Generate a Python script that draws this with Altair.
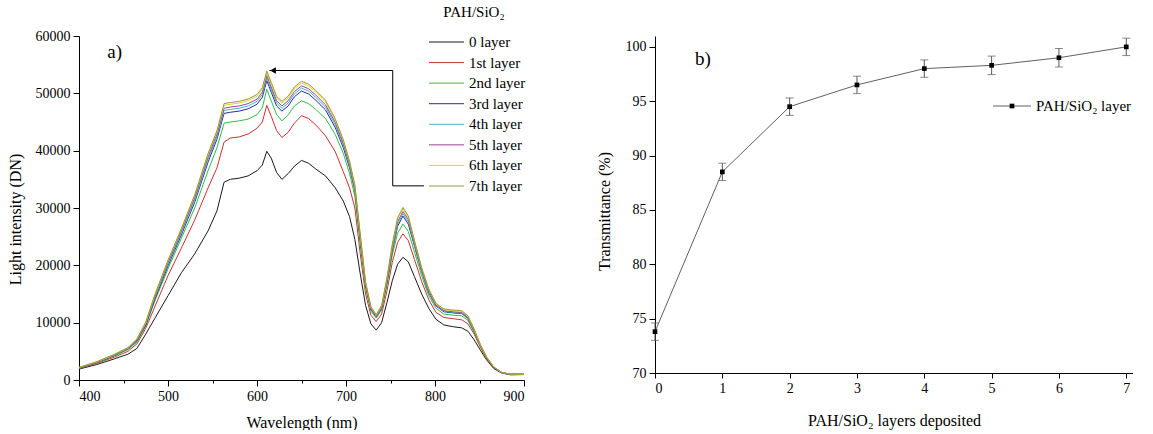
import altair as alt
import pandas as pd

FONT = "Liberation Serif"

# ---------------- Panel a) spectra ----------------
wavelength = [400, 420, 440, 455, 465, 475, 485, 500, 515, 530, 545, 555, 563, 570, 580, 590,
              600, 606, 611, 616, 622, 628, 635, 642, 650, 658, 666, 677, 688, 697, 704, 710,
              716, 722, 728, 734, 740, 746, 752, 758, 764, 770, 777, 785, 793, 801, 810, 820,
              830, 837, 844, 851, 858, 866, 875, 885, 900]

layer_0 = [1900, 2700, 3700, 4500, 5500, 8000, 10700, 14700, 18700, 22000, 26000, 29500, 34500, 35000, 35200, 35600,
           36500, 37500, 39900, 38700, 36200, 35000, 36000, 37300, 38300, 37800, 36800, 35600, 33500, 31200, 28500, 24500,
           18500, 13000, 9800, 8700, 10000, 13500, 17300, 20200, 21400, 20600, 18000, 15000, 12500, 10600, 9600, 9300,
           9100, 8500, 7000, 5200, 3500, 2000, 1200, 900, 950]
layer_1 = [2000, 2900, 4000, 5000, 6300, 9000, 12700, 18200, 23000, 27900, 33500, 37000, 41500, 42200, 42400, 42900,
           43900, 45000, 47900, 46000, 43500, 42300, 43200, 44800, 46100, 45600, 44500, 42600, 39800, 36300, 33500, 30000,
           22000, 15000, 11300, 10200, 11500, 15500, 20500, 24000, 25500, 24300, 21000, 17200, 14000, 11800, 10900, 10700,
           10500, 9800, 8000, 5700, 3700, 2100, 1300, 1000, 1000]
layer_2 = [2050, 3000, 4200, 5300, 6600, 9400, 13700, 19400, 24700, 30000, 36500, 40500, 44800, 45000, 45200, 45500,
           46300, 47500, 50700, 48700, 46300, 45200, 46200, 47800, 48700, 48200, 47200, 45600, 42800, 39500, 36000, 32000,
           23500, 16000, 12000, 10800, 12200, 16500, 21800, 25600, 27200, 25900, 22300, 18200, 14700, 12500, 11500, 11300,
           11200, 10400, 8300, 5900, 3800, 2200, 1300, 1000, 1000]
layer_3 = [2100, 3050, 4300, 5450, 6800, 9600, 14000, 19900, 25300, 31000, 38000, 42000, 46500, 46700, 46900, 47300,
           48100, 49300, 52200, 50200, 47800, 46900, 47800, 49400, 50400, 49900, 48800, 47100, 44000, 40500, 37000, 33000,
           24500, 16500, 12300, 11000, 12500, 17000, 22500, 26800, 28600, 27200, 23300, 18900, 15200, 12900, 11900, 11700,
           11600, 10700, 8500, 6000, 3900, 2200, 1300, 1000, 1000]
layer_4 = [2100, 3100, 4350, 5500, 6900, 9800, 14300, 20200, 25700, 31400, 38500, 42500, 47000, 47200, 47400, 47800,
           48600, 49800, 52700, 50700, 48300, 47400, 48300, 49900, 50900, 50400, 49300, 47600, 44500, 41000, 37400, 33300,
           24800, 16700, 12400, 11100, 12600, 17200, 22800, 27200, 29000, 27600, 23600, 19100, 15400, 13000, 12000, 11800,
           11700, 10800, 8600, 6000, 3900, 2200, 1300, 1000, 1000]
layer_5 = [2150, 3100, 4400, 5550, 7000, 9900, 14500, 20500, 26000, 31800, 38900, 42900, 47400, 47600, 47800, 48200,
           49000, 50200, 53100, 51100, 48700, 47800, 48700, 50300, 51300, 50800, 49700, 48000, 44900, 41300, 37700, 33500,
           25000, 16800, 12500, 11200, 12700, 17400, 23100, 27600, 29400, 28000, 23900, 19300, 15600, 13100, 12100, 11900,
           11800, 10900, 8700, 6100, 3900, 2200, 1300, 1000, 1000]
layer_6 = [2200, 3150, 4450, 5600, 7100, 10000, 14700, 20800, 26300, 32200, 39300, 43300, 47900, 48100, 48300, 48700,
           49500, 50700, 53600, 51600, 49200, 48300, 49200, 50800, 51800, 51300, 50200, 48500, 45300, 41700, 38000, 33800,
           25300, 17000, 12700, 11300, 12900, 17700, 23500, 28100, 29900, 28400, 24200, 19500, 15800, 13300, 12300, 12100,
           12000, 11100, 8800, 6100, 4000, 2300, 1300, 1000, 1000]
layer_7 = [2200, 3200, 4500, 5650, 7150, 10100, 14800, 20900, 26400, 32300, 39500, 43500, 48200, 48400, 48600, 49000,
           49800, 51000, 53900, 51900, 49500, 48600, 49500, 51100, 52100, 51600, 50500, 48800, 45500, 41900, 38200, 34000,
           25400, 17100, 12800, 11400, 13000, 17800, 23700, 28300, 30100, 28600, 24300, 19600, 15900, 13400, 12400, 12200,
           12100, 11200, 8900, 6200, 4000, 2300, 1300, 1000, 1000]

layer_names = ["0 layer", "1st layer", "2nd layer", "3rd layer",
               "4th layer", "5th layer", "6th layer", "7th layer"]
layer_colors = ["#1a1a1a", "#d03030", "#2fbf3f", "#2a2a9a",
                "#3ab8c8", "#a040a0", "#e0d820", "#9a9a30"]
legend_title_a = "PAH/SiO\u2082"

# arrow annotation (data coordinates)
arrow_wl = [787.6, 752.5, 752.5, 614.0]
arrow_val = [33860, 33860, 53980, 53980]
arrow_head_wl = [618.0]
arrow_head_val = [53980]
label_a = ["a)"]
label_a_wl = [440]
label_a_val = [57200]

# ---------------- Panel b) transmittance ----------------
layers_deposited = [0, 1, 2, 3, 4, 5, 6, 7]
transmittance = [73.8, 88.5, 94.5, 96.5, 98.0, 98.3, 99.0, 100.0]
trans_err = [0.8, 0.8, 0.8, 0.8, 0.8, 0.85, 0.85, 0.8]
legend_b = ["PAH/SiO\u2082 layer"]
label_b = ["b)"]
label_b_x = [0.71]
label_b_y = [98.9]

# ---------------- build tables ----------------
series = [layer_0, layer_1, layer_2, layer_3, layer_4, layer_5, layer_6, layer_7]
rows = []
for name, vals in zip(layer_names, series):
    for w, v in zip(wavelength, vals):
        rows.append({"wl": w, "val": v, "layer": name})
spec_df = pd.DataFrame(rows)

arrow_df = pd.DataFrame({"wl": arrow_wl, "val": arrow_val, "idx": list(range(len(arrow_wl)))})
head_df = pd.DataFrame({"wl": arrow_head_wl, "val": arrow_head_val})
a_df = pd.DataFrame({"wl": label_a_wl, "val": label_a_val, "t": label_a})
leg_df = pd.DataFrame({"layer": layer_names})
leg_title_df = pd.DataFrame({"t": [legend_title_a]})

trans_df = pd.DataFrame({
    "n": layers_deposited,
    "T": transmittance,
    "lo": [t - e for t, e in zip(transmittance, trans_err)],
    "hi": [t + e for t, e in zip(transmittance, trans_err)],
})
b_df = pd.DataFrame({"x": label_b_x, "y": label_b_y, "t": label_b})
legb_df = pd.DataFrame({"t": legend_b})

color_scale = alt.Scale(domain=layer_names, range=layer_colors)

# ---------------- Panel a ----------------
xa_scale = alt.Scale(domain=[400, 900], nice=False, zero=False)
ya_scale = alt.Scale(domain=[0, 60000], nice=False)

xa_axis = alt.Axis(
    title="Wavelength (nm)", values=list(range(400, 901, 50)), format="d",
    labelExpr="datum.value % 100 == 0 ? datum.label : ''",
    tickSize={"condition": {"test": "datum.value % 100 != 0", "value": 3}, "value": 6},
    labelPadding=3, titlePadding=11, grid=False,
)
ya_axis = alt.Axis(
    title="Light intensity (DN)", values=list(range(0, 60001, 5000)), format="d",
    labelExpr="datum.value % 10000 == 0 ? datum.label : ''",
    tickSize={"condition": {"test": "datum.value % 10000 != 0", "value": 3}, "value": 6},
    labelPadding=3, titlePadding=12, titleY=183, grid=False,
)

spectra = alt.Chart(spec_df).mark_line(strokeWidth=1).encode(
    x=alt.X("wl:Q", scale=xa_scale, axis=xa_axis),
    y=alt.Y("val:Q", scale=ya_scale, axis=ya_axis),
    color=alt.Color("layer:N", scale=color_scale, legend=None),
)
arrow_line = alt.Chart(arrow_df).mark_line(color="black", strokeWidth=1).encode(
    x="wl:Q", y="val:Q", order="idx:Q")
arrow_head = alt.Chart(head_df).mark_point(
    shape="triangle-left", filled=True, size=45, color="black", opacity=1).encode(
    x="wl:Q", y="val:Q")
a_text = alt.Chart(a_df).mark_text(font=FONT, fontSize=19, color="black").encode(
    x="wl:Q", y="val:Q", text="t:N")

data_a = alt.layer(spectra, arrow_line, arrow_head, a_text)

leg_y = alt.Y("layer:N", sort=layer_names,
              scale=alt.Scale(type="point", range=[6, 150], padding=0), axis=None)
leg_rule = alt.Chart(leg_df).mark_rule(strokeWidth=1).encode(
    x=alt.value(350), x2=alt.value(385), y=leg_y,
    color=alt.Color("layer:N", scale=color_scale, legend=None))
leg_text = alt.Chart(leg_df).mark_text(
    align="left", baseline="middle", font=FONT, fontSize=15, color="black").encode(
    x=alt.value(390), y=leg_y, text="layer:N")
leg_title = alt.Chart(leg_title_df).mark_text(
    align="center", baseline="middle", font=FONT, fontSize=15, color="black").encode(
    x=alt.value(395), y=alt.value(-24), text="t:N")

panel_a = alt.layer(data_a, alt.layer(leg_rule, leg_text), leg_title).resolve_scale(
    y="independent").properties(width=445, height=344)

# ---------------- Panel b ----------------
xb_scale = alt.Scale(domain=[0, 7.1], nice=False, zero=False)
yb_scale = alt.Scale(domain=[70, 101], nice=False, zero=False)
xb_axis = alt.Axis(title="PAH/SiO\u2082 layers deposited", values=layers_deposited, format="d",
                   tickSize=5, labelPadding=3, titlePadding=17, grid=False)
yb_axis = alt.Axis(
    title="Transmittance (%)", values=[70 + 2.5 * i for i in range(13)],
    labelExpr="datum.value % 5 == 0 ? format(datum.value, 'd') : ''",
    tickSize={"condition": {"test": "datum.value % 5 != 0", "value": 3}, "value": 6},
    labelPadding=3, titlePadding=13, titleY=175, grid=False,
)

base_b = alt.Chart(trans_df)
line_b = base_b.mark_line(color="#606060", strokeWidth=1).encode(
    x=alt.X("n:Q", scale=xb_scale, axis=xb_axis),
    y=alt.Y("T:Q", scale=yb_scale, axis=yb_axis))
err_b = base_b.mark_rule(color="#555555", strokeWidth=1).encode(
    x="n:Q", y="lo:Q", y2="hi:Q")
cap_lo = base_b.mark_tick(orient="horizontal", size=8, thickness=1, color="#555555").encode(
    x="n:Q", y="lo:Q")
cap_hi = base_b.mark_tick(orient="horizontal", size=8, thickness=1, color="#555555").encode(
    x="n:Q", y="hi:Q")
pts_b = base_b.mark_point(shape="square", filled=True, size=22, color="black", opacity=1).encode(
    x="n:Q", y="T:Q")
b_text = alt.Chart(b_df).mark_text(font=FONT, fontSize=19, color="black").encode(
    x="x:Q", y="y:Q", text="t:N")

legb_rule = alt.Chart(legb_df).mark_rule(color="#606060", strokeWidth=1).encode(
    x=alt.value(338), x2=alt.value(376), y=alt.value(70))
legb_pt = alt.Chart(legb_df).mark_point(shape="square", filled=True, size=22,
                                        color="black", opacity=1).encode(
    x=alt.value(357), y=alt.value(70))
legb_text = alt.Chart(legb_df).mark_text(align="left", baseline="middle", font=FONT,
                                         fontSize=15, color="black").encode(
    x=alt.value(381), y=alt.value(70), text="t:N")

panel_b = alt.layer(line_b, err_b, cap_lo, cap_hi, pts_b, b_text,
                    legb_rule, legb_pt, legb_text).properties(width=478, height=337)

chart = alt.hconcat(panel_a, panel_b, spacing=131, bounds="flush").properties(
    padding={"left": 7, "top": 5, "right": 0, "bottom": 0},
    background="white",
).configure_view(stroke=None).configure_axis(
    labelFont=FONT, titleFont=FONT, labelFontSize=14, titleFontSize=16,
    titleFontWeight="normal", labelColor="black", titleColor="black",
    domainColor="black", tickColor="black", domainWidth=1, tickWidth=1,
)

chart.save("out.html", embed_options={"renderer": "svg", "actions": False})
